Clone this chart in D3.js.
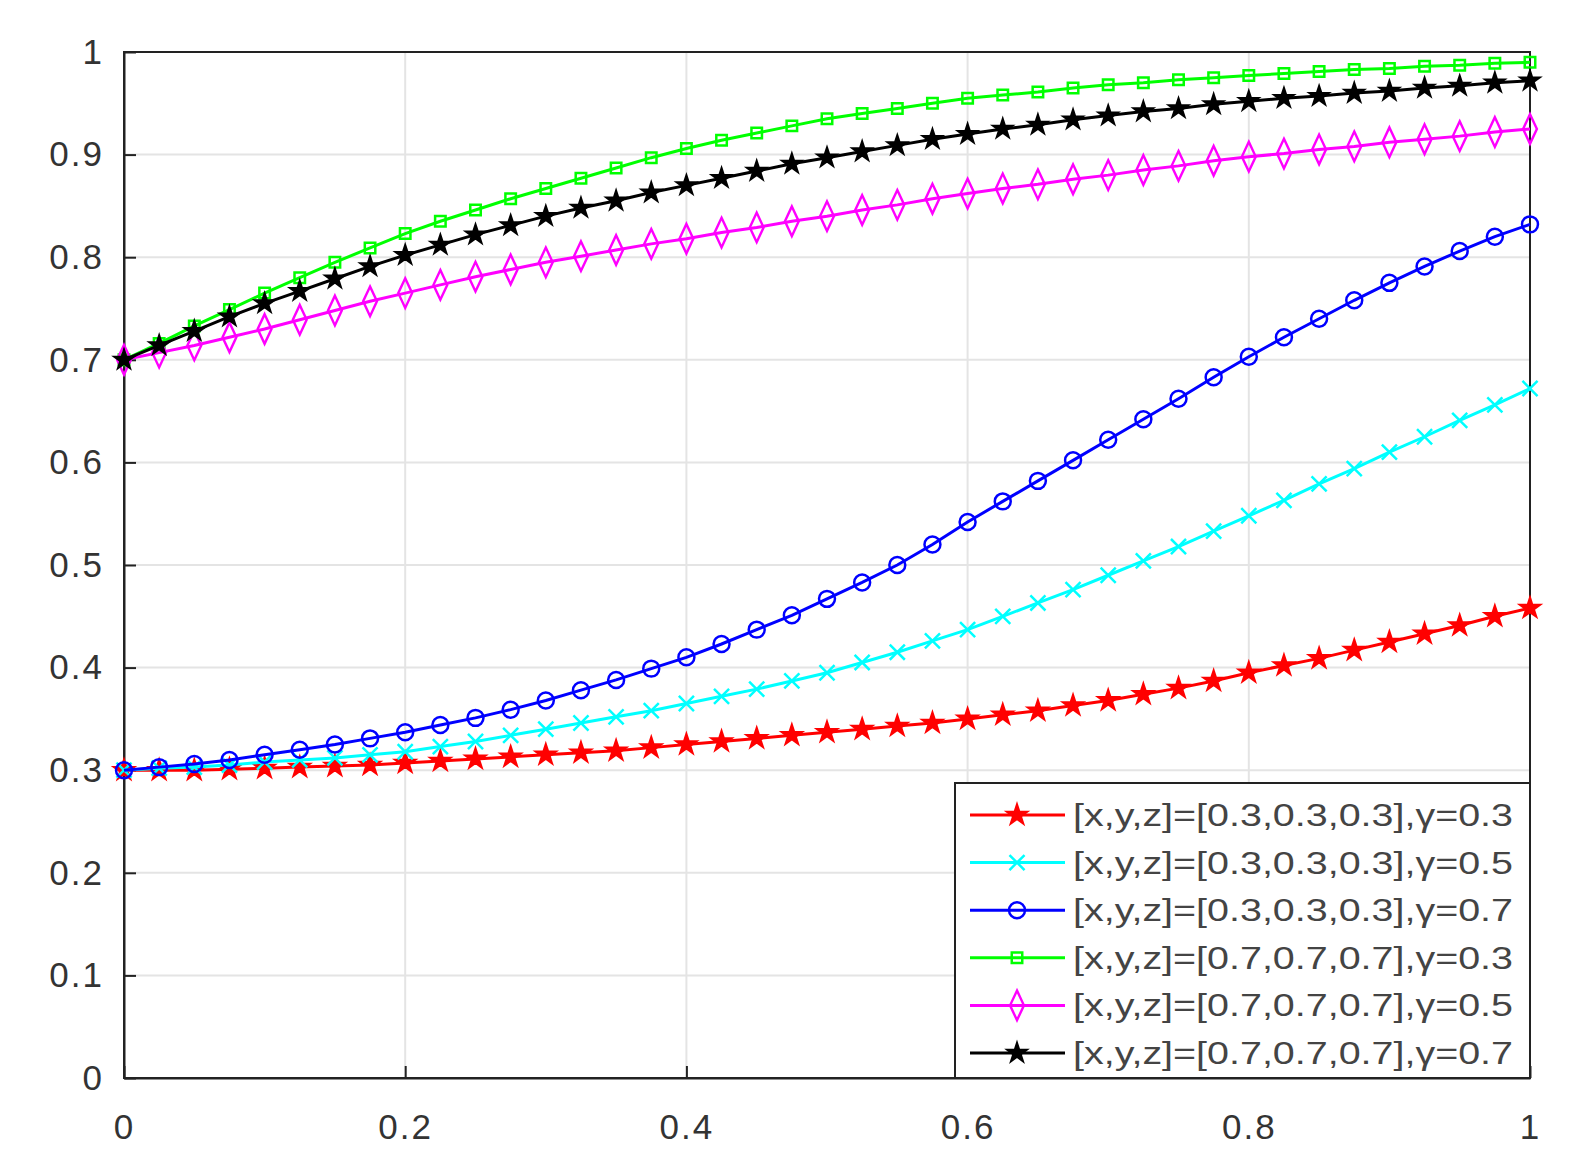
<!DOCTYPE html>
<html><head><meta charset="utf-8">
<script src="https://cdn.jsdelivr.net/npm/d3@7"></script>
<style>body{margin:0;background:#fff}</style>
</head><body><div class="chart"></div>
<script>
// x positions 0..1 step 0.025
const xs = d3.range(41).map(i => i / 40);
const xTicks = [0, 0.2, 0.4, 0.6, 0.8, 1];
const yTicks = [0, 0.1, 0.2, 0.3, 0.4, 0.5, 0.6, 0.7, 0.8, 0.9, 1];

const labels = [
  '[x,y,z]=[0.3,0.3,0.3],\u03b3=0.3',
  '[x,y,z]=[0.3,0.3,0.3],\u03b3=0.5',
  '[x,y,z]=[0.3,0.3,0.3],\u03b3=0.7',
  '[x,y,z]=[0.7,0.7,0.7],\u03b3=0.3',
  '[x,y,z]=[0.7,0.7,0.7],\u03b3=0.5',
  '[x,y,z]=[0.7,0.7,0.7],\u03b3=0.7'
];
const colors = ['#ff0000', '#00ffff', '#0000ff', '#00ff00', '#ff00ff', '#000000'];

const red = [0.300,0.300,0.300,0.301,0.302,0.303,0.304,0.305,0.307,0.309,0.311,0.313,0.315,0.317,0.319,0.322,0.325,0.328,0.331,0.334,0.337,0.340,0.343,0.346,0.350,0.354,0.358,0.363,0.368,0.374,0.380,0.387,0.395,0.402,0.409,0.417,0.425,0.433,0.441,0.450,0.458];
const cyan = [0.300,0.302,0.303,0.305,0.308,0.310,0.312,0.315,0.318,0.323,0.328,0.334,0.340,0.346,0.352,0.358,0.365,0.372,0.379,0.387,0.395,0.405,0.415,0.426,0.437,0.450,0.463,0.476,0.490,0.504,0.518,0.533,0.548,0.563,0.579,0.594,0.610,0.625,0.641,0.656,0.672];
const blue = [0.300,0.303,0.306,0.310,0.315,0.320,0.325,0.331,0.337,0.344,0.351,0.359,0.368,0.378,0.388,0.399,0.410,0.423,0.437,0.451,0.467,0.483,0.500,0.520,0.542,0.562,0.582,0.602,0.622,0.642,0.662,0.683,0.703,0.722,0.740,0.758,0.775,0.791,0.806,0.820,0.832];
const green = [0.700,0.716,0.733,0.749,0.765,0.780,0.795,0.809,0.823,0.835,0.846,0.857,0.867,0.877,0.887,0.897,0.906,0.914,0.921,0.928,0.935,0.940,0.945,0.950,0.955,0.958,0.961,0.965,0.968,0.970,0.973,0.975,0.977,0.979,0.981,0.983,0.984,0.986,0.987,0.989,0.990];
const magenta = [0.700,0.707,0.714,0.722,0.730,0.739,0.748,0.757,0.765,0.773,0.781,0.788,0.795,0.801,0.807,0.813,0.818,0.824,0.829,0.835,0.840,0.846,0.851,0.857,0.862,0.867,0.871,0.876,0.880,0.885,0.889,0.894,0.898,0.901,0.905,0.908,0.912,0.915,0.918,0.922,0.925];
const black = [0.700,0.714,0.728,0.742,0.755,0.767,0.779,0.791,0.802,0.812,0.822,0.831,0.840,0.848,0.855,0.863,0.870,0.877,0.884,0.891,0.897,0.903,0.909,0.915,0.920,0.925,0.929,0.934,0.938,0.942,0.945,0.949,0.952,0.955,0.957,0.960,0.962,0.965,0.967,0.970,0.972];
const series = [red, cyan, blue, green, magenta, black];

const margin = {top: 52, right: 42, bottom: 89, left: 124};
const width = 1572 - margin.left - margin.right;
const height = 1167 - margin.top - margin.bottom;

const svg = d3.select('.chart').append('svg')
  .attr('width', 1572).attr('height', 1167)
  .append('g')
  .attr('transform', `translate(${margin.left},${margin.top})`);

const xScale = d3.scaleLinear().domain([0, 1]).range([0, width]);
const yScale = d3.scaleLinear().domain([0, 1]).range([height, 0]);

// grid
svg.append('g').selectAll('line').data(xTicks).enter().append('line')
  .attr('x1', d => xScale(d)).attr('x2', d => xScale(d))
  .attr('y1', 0).attr('y2', height).attr('stroke', '#e4e4e4').attr('stroke-width', 2);
svg.append('g').selectAll('line').data(yTicks).enter().append('line')
  .attr('y1', d => yScale(d)).attr('y2', d => yScale(d))
  .attr('x1', 0).attr('x2', width).attr('stroke', '#e4e4e4').attr('stroke-width', 2);

const xAxis = svg.append('g').attr('transform', `translate(0,${height})`)
  .call(d3.axisBottom(xScale).tickValues(xTicks).tickFormat(d3.format('')).tickSizeInner(-12).tickSizeOuter(0).tickPadding(36));
const yAxis = svg.append('g')
  .call(d3.axisLeft(yScale).tickValues(yTicks).tickFormat(d3.format('')).tickSizeInner(-12).tickSizeOuter(0).tickPadding(20));
[xAxis, yAxis].forEach(a => {
  a.selectAll('text').attr('font-family', 'Liberation Sans, Arial').attr('font-size', 35)
    .attr('letter-spacing', 2).attr('fill', '#333');
  a.selectAll('line, path').attr('stroke', '#222').attr('stroke-width', 2);
});
svg.append('rect').attr('width', width).attr('height', height)
  .attr('fill', 'none').attr('stroke', '#222').attr('stroke-width', 2);

const symbols = [d3.symbolStar, d3.symbolTimes, d3.symbolCircle, d3.symbolSquare, d3.symbolDiamond, d3.symbolStar];
const sizes = [110, 150, 200, 110, 150, 100];
const filled = [true, false, false, false, false, true];

function marker(g, k) {
  const p = g.append('path').attr('d', d3.symbol(symbols[k], sizes[k])())
    .attr('stroke', colors[k]).attr('stroke-width', 2.5)
    .attr('fill', filled[k] ? colors[k] : 'none');
  if (k === 4) p.attr('transform', 'scale(1.05,1.3)').attr('stroke-width', 2.2);
  return p;
}

const line = d3.line().x((d, i) => xScale(xs[i])).y(d => yScale(d));
series.forEach((s, k) => {
  svg.append('path').datum(s).attr('d', line)
    .attr('fill', 'none').attr('stroke', colors[k]).attr('stroke-width', 3);
  s.forEach((v, i) => {
    const g = svg.append('g').attr('transform', `translate(${xScale(xs[i])},${yScale(v)})`);
    marker(g, k);
  });
});

// legend
const lx = 955 - margin.left, ly = 783 - margin.top;
svg.append('rect').attr('x', lx).attr('y', ly).attr('width', width - lx).attr('height', 1078 - 783)
  .attr('fill', '#fff').attr('stroke', '#222').attr('stroke-width', 2);
labels.forEach((t, k) => {
  const y = ly + 32 + k * 47.6;
  svg.append('line').attr('x1', lx + 15).attr('x2', lx + 110).attr('y1', y).attr('y2', y)
    .attr('stroke', colors[k]).attr('stroke-width', 3);
  marker(svg.append('g').attr('transform', `translate(${lx + 62},${y})`), k);
  svg.append('text').attr('x', lx + 118).attr('y', y + 11)
    .attr('font-family', 'Liberation Sans, Arial').attr('font-size', 32).attr('fill', '#444')
    .attr('textLength', 440).attr('lengthAdjust', 'spacingAndGlyphs').text(t);
});
</script>
</body></html>
